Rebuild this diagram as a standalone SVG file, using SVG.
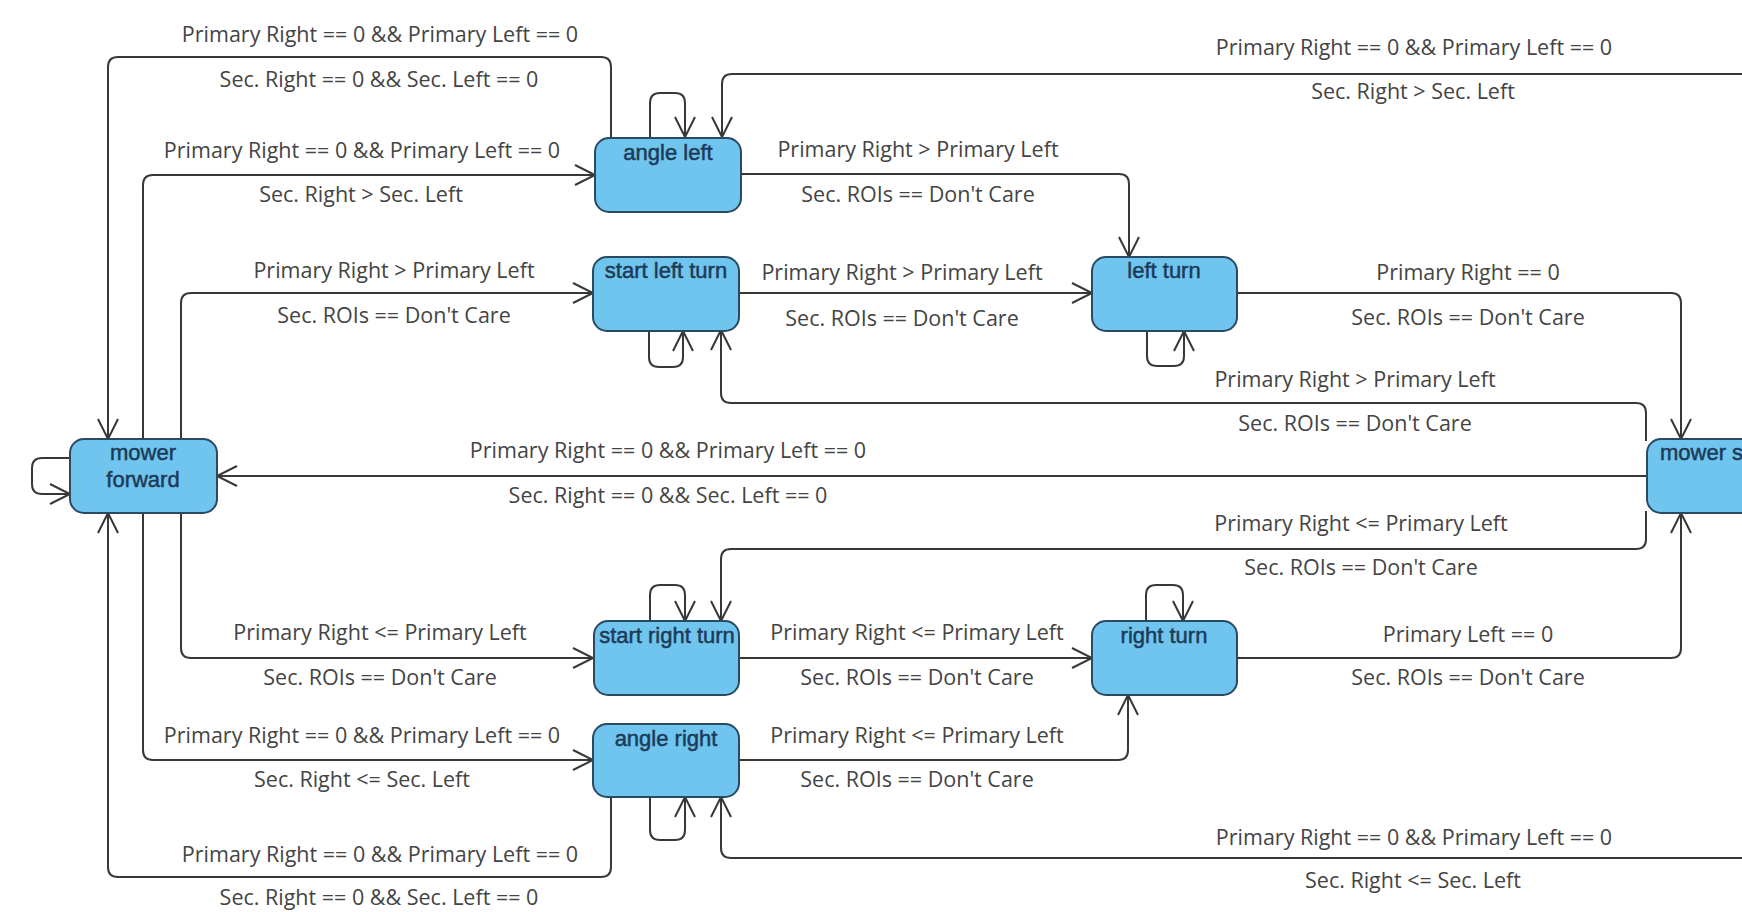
<svg xmlns="http://www.w3.org/2000/svg" width="1742" height="912" viewBox="0 0 1742 912">
<defs>
<style>
.node rect{fill:#6fc5ee;stroke:#2a4a62;stroke-width:2}
.node text{font-family:"Liberation Sans",Arial,sans-serif;font-size:22px;fill:#1d3b58;stroke:#1d3b58;stroke-width:0.5;text-anchor:middle}
.c path{fill:none;stroke:#383838;stroke-width:2;marker-end:url(#arr)}
.lbl text{font-family:"Open Sans","Noto Sans",sans-serif;font-size:21.5px;fill:#444;text-anchor:middle}
</style>
<marker id="arr" markerUnits="userSpaceOnUse" viewBox="-24 -14 28 28" refX="0" refY="0" markerWidth="28" markerHeight="28" orient="auto">
<path d="M-20,-10 L0,0 L-20,10" fill="none" stroke="#383838" stroke-width="2"/>
</marker>
</defs>
<rect width="1742" height="912" fill="#fff"/>
<g id="connectors" class="c">
<path d="M611 138 V67 Q611 57 601 57 H118 Q108 57 108 67 V439"/>
<path d="M143 439 V185 Q143 175 153 175 H595"/>
<path d="M181 439 V303 Q181 293 191 293 H593"/>
<path d="M741 174 H1119 Q1129 174 1129 184 V257"/>
<path d="M739 293 H1092"/>
<path d="M1237 293 H1671 Q1681 293 1681 303 V439"/>
<path d="M1646 441 V413 Q1646 403 1636 403 H731 Q721 403 721 393 V330"/>
<path d="M1647 476 H217"/>
<path d="M1646 511 V539 Q1646 549 1636 549 H731 Q721 549 721 559 V621"/>
<path d="M739 658 H1092"/>
<path d="M1237 658 H1671 Q1681 658 1681 648 V513"/>
<path d="M739 760 H1118 Q1128 760 1128 750 V695"/>
<path d="M181 513 V648 Q181 658 191 658 H593"/>
<path d="M143 513 V750 Q143 760 153 760 H593"/>
<path d="M611 797 V867 Q611 877 601 877 H118 Q108 877 108 867 V513"/>
<path d="M1746 74 H732 Q722 74 722 84 V137"/>
<path d="M1746 858 H731 Q721 858 721 848 V797"/>
<path d="M650 138 V103 Q650 93 660 93 H675 Q685 93 685 103 V137"/>
<path d="M649 330 V357 Q649 367 659 367 H673 Q683 367 683 357 V331"/>
<path d="M1147 330 V356 Q1147 366 1157 366 H1174 Q1184 366 1184 356 V331"/>
<path d="M650 621 V595 Q650 585 660 585 H675 Q685 585 685 595 V621"/>
<path d="M1146 621 V595 Q1146 585 1156 585 H1173 Q1183 585 1183 595 V621"/>
<path d="M650 797 V830 Q650 840 660 840 H675 Q685 840 685 830 V797"/>
<path d="M70 458 H42 Q32 458 32 468 V484 Q32 494 42 494 H70"/>
</g>
<g id="labels" class="lbl">
<text x="380" y="42">Primary Right == 0 &amp;&amp; Primary Left == 0</text>
<text x="379" y="87">Sec. Right == 0 &amp;&amp; Sec. Left == 0</text>
<text x="362" y="158">Primary Right == 0 &amp;&amp; Primary Left == 0</text>
<text x="361" y="202">Sec. Right &gt; Sec. Left</text>
<text x="1414" y="55">Primary Right == 0 &amp;&amp; Primary Left == 0</text>
<text x="1413" y="99">Sec. Right &gt; Sec. Left</text>
<text x="918" y="157">Primary Right &gt; Primary Left</text>
<text x="918" y="202">Sec. ROIs == Don't Care</text>
<text x="394" y="278">Primary Right &gt; Primary Left</text>
<text x="394" y="323">Sec. ROIs == Don't Care</text>
<text x="902" y="280">Primary Right &gt; Primary Left</text>
<text x="902" y="326">Sec. ROIs == Don't Care</text>
<text x="1468" y="280">Primary Right == 0</text>
<text x="1468" y="325">Sec. ROIs == Don't Care</text>
<text x="1355" y="387">Primary Right &gt; Primary Left</text>
<text x="1355" y="431">Sec. ROIs == Don't Care</text>
<text x="668" y="458">Primary Right == 0 &amp;&amp; Primary Left == 0</text>
<text x="668" y="503">Sec. Right == 0 &amp;&amp; Sec. Left == 0</text>
<text x="1361" y="531">Primary Right &lt;= Primary Left</text>
<text x="1361" y="575">Sec. ROIs == Don't Care</text>
<text x="380" y="640">Primary Right &lt;= Primary Left</text>
<text x="380" y="685">Sec. ROIs == Don't Care</text>
<text x="917" y="640">Primary Right &lt;= Primary Left</text>
<text x="917" y="685">Sec. ROIs == Don't Care</text>
<text x="1468" y="642">Primary Left == 0</text>
<text x="1468" y="685">Sec. ROIs == Don't Care</text>
<text x="362" y="743">Primary Right == 0 &amp;&amp; Primary Left == 0</text>
<text x="362" y="787">Sec. Right &lt;= Sec. Left</text>
<text x="917" y="743">Primary Right &lt;= Primary Left</text>
<text x="917" y="787">Sec. ROIs == Don't Care</text>
<text x="1414" y="845">Primary Right == 0 &amp;&amp; Primary Left == 0</text>
<text x="1413" y="888">Sec. Right &lt;= Sec. Left</text>
<text x="380" y="862">Primary Right == 0 &amp;&amp; Primary Left == 0</text>
<text x="379" y="905">Sec. Right == 0 &amp;&amp; Sec. Left == 0</text>
</g>
<g id="mower-forward" class="node"><rect x="70" y="439" width="147" height="74" rx="14"/><text x="143" y="460">mower</text><text x="143" y="487">forward</text></g>
<g id="angle-left" class="node"><rect x="595" y="138" width="146" height="74" rx="14"/><text x="668" y="160">angle left</text></g>
<g id="start-left-turn" class="node"><rect x="593" y="257" width="146" height="74" rx="14"/><text x="666" y="278">start left turn</text></g>
<g id="left-turn" class="node"><rect x="1092" y="257" width="145" height="74" rx="14"/><text x="1164" y="278">left turn</text></g>
<g id="mower-s" class="node"><rect x="1647" y="439" width="146" height="74" rx="14"/><text x="1660" y="460" style="text-anchor:start">mower s</text></g>
<g id="start-right-turn" class="node"><rect x="594" y="621" width="145" height="74" rx="14"/><text x="667" y="643">start right turn</text></g>
<g id="right-turn" class="node"><rect x="1092" y="621" width="145" height="74" rx="14"/><text x="1164" y="643">right turn</text></g>
<g id="angle-right" class="node"><rect x="593" y="724" width="146" height="73" rx="14"/><text x="666" y="746">angle right</text></g>
</svg>
